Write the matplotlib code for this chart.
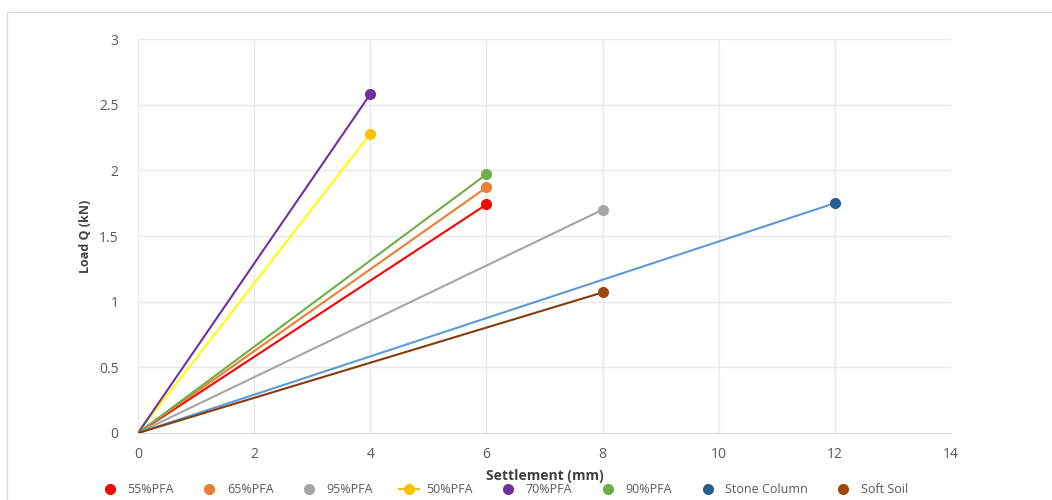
import matplotlib
matplotlib.use("Agg")
import matplotlib.pyplot as plt
from matplotlib.lines import Line2D
from matplotlib.patches import Rectangle

plt.rcParams['font.family'] = ['Open Sans', 'DejaVu Sans']

series_names = ["55%PFA", "65%PFA", "95%PFA", "50%PFA", "70%PFA", "90%PFA", "Stone Column", "Soft Soil"]
settlement = [
    [0, 6],
    [0, 6],
    [0, 8],
    [0, 4],
    [0, 4],
    [0, 6],
    [0, 12],
    [0, 8],
]
load = [
    [0, 1.74],
    [0, 1.87],
    [0, 1.70],
    [0, 2.28],
    [0, 2.58],
    [0, 1.97],
    [0, 1.75],
    [0, 1.07],
]
line_colors = ["#FF0000", "#ED7D31", "#A5A5A5", "#FFFF00", "#7030A0", "#70AD47", "#5B9BD5", "#843C0C"]
marker_colors = ["#FF0000", "#ED7D31", "#A5A5A5", "#FFC000", "#7030A0", "#70AD47", "#255E91", "#9E480E"]
x_ticks = [0, 2, 4, 6, 8, 10, 12, 14]
y_ticks = [0, 0.5, 1, 1.5, 2, 2.5, 3]
y_tick_labels = ["0", "0.5", "1", "1.5", "2", "2.5", "3"]

fig = plt.figure(figsize=(10.52, 5.0), dpi=100)
fig.patches.append(Rectangle((7 / 1052, -0.1), 1.2, (500 - 12) / 500 + 0.1, transform=fig.transFigure,
                             fill=False, edgecolor="#D9D9D9", linewidth=1.0))
ax = fig.add_axes([138 / 1052, 67 / 500, 813 / 1052, 394 / 500])

handles = []
for i, name in enumerate(series_names):
    xs, ys = settlement[i], load[i]
    if name == "50%PFA":
        ax.plot(xs, ys, color=line_colors[i], lw=1.5, zorder=3)
        ax.plot(xs[:1], ys[:1], ls="none", marker="o", ms=5,
                mfc="#FFFF66", mec="#FFFF66", zorder=2.5)
        ax.plot(xs[-1:], ys[-1:], ls="none", marker="o", ms=7,
                mfc=marker_colors[i], mec=marker_colors[i], zorder=4)
        handles.append(Line2D([], [], color=marker_colors[i], lw=1.5, marker="o", ms=7,
                              mfc=marker_colors[i], mec=marker_colors[i], label=name))
    else:
        ax.plot(xs, ys, color=line_colors[i], lw=1.5, zorder=3)
        ax.plot(xs[-1:], ys[-1:], ls="none", marker="o", ms=7,
                mfc=marker_colors[i], mec=marker_colors[i], zorder=4)
        handles.append(Line2D([], [], ls="none", marker="o", ms=7,
                              mfc=marker_colors[i], mec=marker_colors[i], label=name))

ax.set_xlim(0, 14)
ax.set_ylim(0, 3)
ax.set_xticks(x_ticks)
ax.set_yticks(y_ticks)
ax.set_yticklabels(y_tick_labels)
ax.grid(True, color="#E8E8E8", lw=1.0)
ax.set_axisbelow(True)
for s in ["top", "right", "left"]:
    ax.spines[s].set_visible(False)
ax.spines["bottom"].set_color("#D9D9D9")
ax.tick_params(length=0, labelsize=10, colors="#595959")
ax.tick_params(axis="x", pad=10)
ax.tick_params(axis="y", pad=14)

ax.set_xlabel("Settlement (mm)", fontsize=10, fontweight="bold", color="#404040", labelpad=5)
ax.set_ylabel("Load Q (kN)", fontsize=9, fontweight="bold", color="#404040", labelpad=5)

fig.legend(handles=handles, loc="center", bbox_to_anchor=(0.479, 0.021), ncol=8, frameon=False,
           fontsize=9, labelcolor="#595959", handlelength=1.6, handletextpad=0.6, columnspacing=2.05)

fig.savefig("out.png", dpi=100, facecolor="white")
